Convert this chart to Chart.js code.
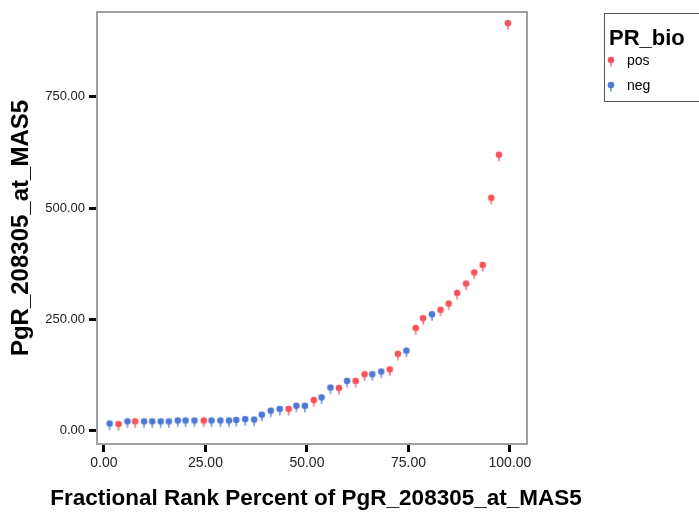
<!DOCTYPE html>
<html>
<head>
<meta charset="utf-8">
<script src="https://cdn.jsdelivr.net/npm/chart.js@4/dist/chart.umd.min.js"></script>
<style>
  html, body { margin: 0; padding: 0; background: #fff; overflow: hidden; }
  #wrap { position: relative; width: 699px; height: 514px; }
  #legend { position: absolute; left: 604px; top: 13px; width: 110px; height: 89px;
            border: 1px solid #555; box-sizing: border-box; font-family: "Liberation Sans", Arial, sans-serif; }
  #legend .title { position: absolute; left: 4px; top: 11px; font-weight: bold; font-size: 22px; line-height: 25px; }
  #legend .item { position: absolute; left: 0; font-size: 14px; line-height: 16px; }
  #legend .item canvas { position: absolute; left: 1px; top: -2px; }
  #legend .item span { position: absolute; left: 22px; top: 0; }
</style>
</head>
<body>
<div id="wrap">
  <canvas id="chart" width="699" height="514"></canvas>
  <div id="legend"></div>
</div>
<script>
// fractional rank percent (x) and PgR value (y), one entry per case
const xRank = [1.4, 3.6, 5.8, 7.7, 9.9, 11.9, 14.0, 16.0, 18.2, 20.1, 22.3, 24.6, 26.5, 28.7, 30.8, 32.6,
               34.8, 37.0, 38.9, 41.1, 43.3, 45.5, 47.4, 49.5, 51.7, 53.6, 55.8, 57.9, 59.9, 62.0, 64.2, 66.1,
               68.3, 70.4, 72.4, 74.5, 76.8, 78.6, 80.8, 82.9, 84.9, 87.0, 89.2, 91.2, 93.3, 95.4, 97.3, 99.5];
const yValue = [15, 14, 20, 20, 20, 20, 20, 20, 22, 22, 22, 22, 22, 22, 22, 23,
                25, 24, 35, 44, 48, 48, 55, 55, 68, 74, 96, 95, 111, 111, 126, 126,
                132, 137, 172, 179, 230, 252, 261, 271, 285, 309, 330, 355, 372, 523, 620, 916];
const prBio = ['neg','pos','neg','pos','neg','neg','neg','neg','neg','neg','neg','pos','neg','neg','neg','neg',
               'neg','neg','neg','neg','neg','pos','neg','neg','pos','neg','neg','pos','neg','pos','pos','neg',
               'neg','pos','pos','neg','pos','pos','neg','pos','pos','pos','pos','pos','pos','pos','pos','pos'];

const groups = ['pos', 'neg'];
const groupColors = { pos: '#f8525b', neg: '#4d78d6' };

const xTicks = [0, 25, 50, 75, 100];
const yTicks = [0, 250, 500, 750];

const xTitle = 'Fractional Rank Percent of PgR_208305_at_MAS5';
const yTitle = 'PgR_208305_at_MAS5';

const FONT = '"Liberation Sans", Arial, sans-serif';

// little SPSS-like marker: a blob with a short stem under it
function makeMarker(color) {
    const c = document.createElement('canvas');
    c.width = 10;
    c.height = 20;
    const g = c.getContext('2d');
    g.strokeStyle = color;
    g.globalAlpha = 0.8;
    g.lineWidth = 1.6;
    g.beginPath();
    g.moveTo(5, 10);
    g.lineTo(5, 16.5);
    g.stroke();
    g.globalAlpha = 1;
    g.fillStyle = color;
    g.beginPath();
    g.arc(5, 10, 3.3, 0, Math.PI * 2);
    g.fill();
    return c;
}

const datasets = groups.map(grp => ({
    label: grp,
    data: xRank.map((x, i) => ({ x: x, y: yValue[i], g: prBio[i] }))
               .filter(p => p.g === grp)
               .map(p => ({ x: p.x, y: p.y })),
    pointStyle: makeMarker(groupColors[grp]),
    backgroundColor: groupColors[grp],
    borderColor: groupColors[grp]
}));

const frame = {
    id: 'frame',
    afterDraw(chart) {
        const a = chart.chartArea;
        const ctx = chart.ctx;
        ctx.save();
        ctx.strokeStyle = '#a0a0a0';
        ctx.lineWidth = 2;
        ctx.strokeRect(a.left, a.top, a.right - a.left, a.bottom - a.top);
        ctx.restore();
    }
};

const chart = new Chart(document.getElementById('chart'), {
    type: 'scatter',
    data: { datasets: datasets },
    options: {
        responsive: false,
        animation: false,
        events: [],
        layout: { padding: { left: 0, top: 12, right: 67, bottom: 0 } },
        plugins: {
            legend: { display: false },
            tooltip: { enabled: false },
            // x axis title as a bottom title, so it can run wider than the plot
            title: { display: true, position: 'bottom', text: xTitle, color: '#000',
                     font: { family: FONT, size: 22.5, weight: 'bold' }, padding: { top: 0, bottom: 2 } }
        },
        scales: {
            x: {
                type: 'linear',
                min: -1.7,
                max: 104.2,
                afterBuildTicks: s => { s.ticks = xTicks.map(v => ({ value: v })); },
                afterFit: s => { s.height = 41; },
                grid: { drawOnChartArea: false, tickLength: 8, tickWidth: 3, tickColor: '#000' },
                border: { display: false },
                ticks: { color: '#222', padding: 3, maxRotation: 0, font: { family: FONT, size: 14 },
                         callback: v => Number(v).toFixed(2) }
            },
            y: {
                type: 'linear',
                min: -31,
                max: 941,
                afterBuildTicks: s => { s.ticks = yTicks.map(v => ({ value: v })); },
                afterFit: s => { s.width = 97; },
                grid: { drawOnChartArea: false, tickLength: 8, tickWidth: 3, tickColor: '#000' },
                border: { display: false },
                ticks: { color: '#222', padding: 4, font: { family: FONT, size: 13 },
                         callback: v => Number(v).toFixed(2) },
                title: { display: true, text: yTitle, color: '#000',
                         font: { family: FONT, size: 24, weight: 'bold' }, padding: { top: 7, bottom: 0 } }
            },
            // empty right-hand box that keeps room for the legend
            y2: {
                type: 'linear',
                position: 'right',
                display: true,
                afterFit: s => { s.width = 105; },
                grid: { display: false },
                ticks: { display: false },
                border: { display: false }
            }
        }
    },
    plugins: [frame]
});

// html legend built from the chart's datasets
function buildLegend(chart) {
    const box = document.getElementById('legend');
    const title = document.createElement('div');
    title.className = 'title';
    title.textContent = 'PR_bio';
    box.appendChild(title);
    chart.data.datasets.forEach((ds, i) => {
        const item = document.createElement('div');
        item.className = 'item';
        item.style.top = (38 + i * 25) + 'px';
        item.appendChild(makeMarker(ds.borderColor));
        const txt = document.createElement('span');
        txt.textContent = ds.label;
        item.appendChild(txt);
        box.appendChild(item);
    });
}
buildLegend(chart);
</script>
</body>
</html>
